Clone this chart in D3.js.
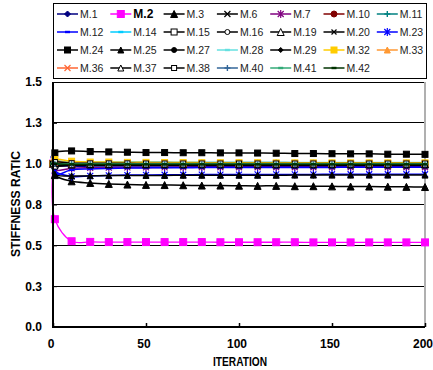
<!DOCTYPE html>
<html><head><meta charset="utf-8">
<script src="https://cdn.jsdelivr.net/npm/d3@7"></script>
<style>html,body{margin:0;padding:0;background:#fff;}svg{display:block;font-family:"Liberation Sans",Arial,sans-serif;}</style>
</head><body>
<svg id="chart" width="433" height="370"></svg>
<script>
// ---------- data ----------
const iterations = [0, 1, 10, 20, 30, 40, 50, 60, 70, 80, 90, 100, 110, 120, 130, 140, 150, 160, 170, 180, 190, 200];
const xTicks = [0, 50, 100, 150, 200];
const yTicks = [0, 0.25, 0.5, 0.75, 1.0, 1.25, 1.5];
const yTickLabels = ["0.0", "0.3", "0.5", "0.8", "1.0", "1.3", "1.5"];
const categories = ["M.1","M.2","M.3","M.6","M.7","M.10","M.11","M.12","M.14","M.15","M.16","M.19","M.20","M.23",
  "M.24","M.25","M.27","M.28","M.29","M.32","M.33","M.36","M.37","M.38","M.40","M.41","M.42"];

const m1  = [1.00,0.990,0.985,0.985,0.985,0.985,0.985,0.985,0.985,0.984,0.984,0.984,0.984,0.984,0.984,0.984,0.983,0.983,0.983,0.983,0.983,0.983];
const m2  = [1.00,0.660,0.525,0.521,0.520,0.520,0.520,0.520,0.520,0.520,0.519,0.519,0.519,0.519,0.519,0.518,0.518,0.518,0.518,0.518,0.518,0.518];
const m3  = [1.00,0.930,0.892,0.882,0.876,0.872,0.870,0.869,0.868,0.866,0.866,0.865,0.864,0.864,0.862,0.862,0.861,0.860,0.860,0.859,0.858,0.857];
const m6  = [1.00,0.995,0.992,0.992,0.991,0.991,0.991,0.991,0.990,0.990,0.990,0.990,0.990,0.990,0.990,0.990,0.990,0.990,0.990,0.990,0.990,0.990];
const m7  = [1.00,0.960,0.972,0.975,0.976,0.977,0.977,0.977,0.978,0.978,0.978,0.978,0.978,0.978,0.978,0.978,0.978,0.978,0.978,0.978,0.978,0.978];
const m10 = [1.00,1.000,0.995,0.995,0.995,0.995,0.995,0.995,0.994,0.994,0.994,0.994,0.994,0.994,0.994,0.994,0.994,0.994,0.994,0.994,0.994,0.994];
const m11 = [1.00,1.012,1.010,1.009,1.008,1.008,1.008,1.008,1.007,1.007,1.007,1.007,1.007,1.007,1.006,1.006,1.006,1.006,1.006,1.006,1.006,1.006];
const m12 = [1.04,0.935,0.962,0.968,0.971,0.973,0.974,0.975,0.975,0.976,0.976,0.976,0.977,0.977,0.977,0.977,0.977,0.978,0.978,0.978,0.978,0.978];
const m14 = [1.00,1.006,1.005,1.005,1.005,1.005,1.004,1.004,1.004,1.004,1.004,1.004,1.004,1.004,1.004,1.004,1.004,1.004,1.004,1.004,1.004,1.004];
const m15 = [1.00,1.000,0.998,0.998,0.998,0.998,0.998,0.998,0.998,0.998,0.998,0.998,0.998,0.998,0.998,0.998,0.998,0.998,0.998,0.998,0.998,0.998];
const m16 = [1.00,0.998,0.997,0.997,0.997,0.997,0.997,0.997,0.997,0.997,0.997,0.997,0.997,0.997,0.997,0.997,0.997,0.997,0.997,0.997,0.997,0.997];
const m19 = [1.00,0.995,0.995,0.995,0.995,0.995,0.995,0.995,0.995,0.995,0.995,0.995,0.995,0.995,0.995,0.995,0.995,0.995,0.995,0.995,0.995,0.995];
const m20 = [1.00,0.997,0.996,0.996,0.996,0.996,0.996,0.996,0.996,0.996,0.996,0.996,0.996,0.996,0.996,0.996,0.996,0.996,0.996,0.996,0.996,0.996];
const m23 = [1.00,0.955,0.922,0.925,0.928,0.930,0.931,0.932,0.932,0.933,0.933,0.933,0.934,0.934,0.934,0.934,0.935,0.935,0.935,0.935,0.935,0.935];
const m24 = [1.00,1.066,1.078,1.074,1.072,1.070,1.068,1.068,1.067,1.067,1.066,1.066,1.065,1.064,1.062,1.062,1.061,1.060,1.060,1.058,1.058,1.057];
const m25 = [1.00,0.935,0.925,0.926,0.927,0.928,0.928,0.928,0.929,0.929,0.929,0.929,0.929,0.929,0.930,0.930,0.930,0.930,0.930,0.930,0.930,0.930];
const m27 = [1.00,0.994,0.993,0.993,0.993,0.993,0.993,0.993,0.993,0.993,0.993,0.993,0.993,0.993,0.993,0.993,0.993,0.993,0.993,0.993,0.993,0.993];
const m28 = [1.00,1.010,1.008,1.008,1.008,1.008,1.008,1.007,1.007,1.007,1.007,1.007,1.007,1.007,1.007,1.007,1.007,1.007,1.007,1.007,1.007,1.007];
const m29 = [1.00,0.990,0.990,0.990,0.990,0.990,0.990,0.990,0.990,0.990,0.990,0.990,0.990,0.990,0.990,0.990,0.990,0.990,0.990,0.990,0.990,0.990];
const m32 = [1.00,1.025,1.015,1.010,1.010,1.008,1.008,1.007,1.007,1.006,1.006,1.006,1.006,1.005,1.005,1.005,1.005,1.005,1.005,1.005,1.005,1.005];
const m33 = [1.00,1.010,1.005,1.003,1.002,1.001,1.001,1.000,1.000,1.000,1.000,1.000,1.000,1.000,1.000,1.000,1.000,1.000,1.000,1.000,1.000,1.000];
const m36 = [1.00,1.005,1.000,1.000,1.000,1.000,1.000,1.000,1.000,1.000,1.000,1.000,1.000,1.000,1.000,1.000,1.000,1.000,1.000,1.000,1.000,1.000];
const m37 = [1.00,0.985,0.994,0.995,0.995,0.995,0.995,0.995,0.995,0.995,0.995,0.995,0.995,0.995,0.995,0.995,0.995,0.995,0.995,0.995,0.995,0.995];
const m38 = [1.00,1.010,1.003,1.002,1.002,1.002,1.001,1.001,1.001,1.001,1.001,1.001,1.001,1.001,1.001,1.001,1.001,1.001,1.001,1.001,1.001,1.001];
const m40 = [1.00,1.000,0.998,0.998,0.998,0.998,0.998,0.998,0.997,0.997,0.997,0.997,0.997,0.997,0.997,0.997,0.997,0.997,0.997,0.997,0.997,0.997];
const m41 = [1.00,1.000,0.999,0.999,0.999,0.999,0.999,0.999,0.999,0.999,0.999,0.999,0.999,0.999,0.999,0.999,0.999,0.999,0.999,0.999,0.999,0.999];
const m42 = [1.00,1.000,0.996,0.996,0.996,0.996,0.996,0.996,0.996,0.996,0.996,0.996,0.996,0.996,0.996,0.996,0.996,0.996,0.996,0.996,0.996,0.996];

const seriesValues = [m1,m2,m3,m6,m7,m10,m11,m12,m14,m15,m16,m19,m20,m23,m24,m25,m27,m28,m29,m32,m33,m36,m37,m38,m40,m41,m42];

// ---------- styles (kept separate from data) ----------
const styles = {
  "M.1":  {c:"#000080", m:"diamond", fill:true, s:6},
  "M.2":  {c:"#FF00FF", m:"square", fill:true, s:7},
  "M.3":  {c:"#000000", m:"triangle", fill:true, s:7},
  "M.6":  {c:"#000000", m:"x", s:6},
  "M.7":  {c:"#800080", m:"asterisk", s:6},
  "M.10": {c:"#800000", m:"circle", fill:true, s:6},
  "M.11": {c:"#008080", m:"plus", s:6},
  "M.12": {c:"#0000FF", m:"dash", s:5},
  "M.14": {c:"#00CCFF", m:"dash", s:5},
  "M.15": {c:"#000000", m:"square", fill:false, s:6},
  "M.16": {c:"#000000", m:"circle", fill:false, s:5},
  "M.19": {c:"#000000", m:"triangle", fill:false, s:7},
  "M.20": {c:"#000000", m:"x", s:5},
  "M.23": {c:"#0000FF", m:"asterisk", s:6},
  "M.24": {c:"#000000", m:"square", fill:true, s:6},
  "M.25": {c:"#000000", m:"triangle", fill:true, s:6},
  "M.27": {c:"#000000", m:"circle", fill:true, s:5},
  "M.28": {c:"#66E0E0", m:"dash", s:5},
  "M.29": {c:"#000000", m:"diamond", fill:true, s:5},
  "M.32": {c:"#FFCC00", m:"square", fill:true, s:6},
  "M.33": {c:"#FF9933", m:"triangle", fill:true, s:6},
  "M.36": {c:"#FF6633", m:"x", s:6},
  "M.37": {c:"#000000", m:"triangle", fill:false, s:6},
  "M.38": {c:"#000000", m:"square", fill:false, s:5},
  "M.40": {c:"#336699", m:"plus", s:6},
  "M.41": {c:"#33AA77", m:"dash", s:5},
  "M.42": {c:"#003300", m:"dash", s:5}
};

// ---------- layout ----------
const svg = d3.select("#chart");
const plot = {left:53, right:425, top:82, bottom:327};
const x = d3.scaleLinear().domain([0,200]).range([plot.left, plot.right]);
const y = d3.scaleLinear().domain([0,1.5]).range([plot.bottom, plot.top]);

// grid lines
svg.append("g").selectAll("line").data(yTicks.filter(d => d > 0)).join("line")
  .attr("x1", plot.left).attr("x2", plot.right)
  .attr("y1", d => y(d)).attr("y2", d => y(d))
  .attr("stroke", "#000").attr("stroke-width", 1).attr("shape-rendering","crispEdges");

// right border (plot area)
svg.append("line").attr("x1", plot.right).attr("x2", plot.right)
  .attr("y1", plot.top).attr("y2", plot.bottom)
  .attr("stroke", "#b0b0b0").attr("stroke-width", 2);

// marker drawing
function drawMarker(g, st) {
  const s = st.s, c = st.c;
  if (st.m === "square") {
    g.append("rect").attr("x", -s/2).attr("y", -s/2).attr("width", s).attr("height", s)
      .attr("fill", st.fill ? c : "#fff").attr("stroke", c).attr("stroke-width", 1);
  } else if (st.m === "diamond") {
    g.append("path").attr("d", `M0,${-s/2}L${s/2},0L0,${s/2}L${-s/2},0Z`)
      .attr("fill", st.fill ? c : "#fff").attr("stroke", c).attr("stroke-width", 1);
  } else if (st.m === "triangle") {
    g.append("path").attr("d", `M0,${-s/2}L${s/2},${s/2}L${-s/2},${s/2}Z`)
      .attr("fill", st.fill ? c : "#fff").attr("stroke", c).attr("stroke-width", 1);
  } else if (st.m === "circle") {
    g.append("circle").attr("r", s/2).attr("fill", st.fill ? c : "#fff").attr("stroke", c).attr("stroke-width", 1);
  } else if (st.m === "x") {
    const h = s/2;
    g.append("path").attr("d", `M${-h},${-h}L${h},${h}M${-h},${h}L${h},${-h}`).attr("stroke", c).attr("stroke-width", 1.2).attr("fill","none");
  } else if (st.m === "asterisk") {
    const h = s/2;
    g.append("path").attr("d", `M${-h},${-h}L${h},${h}M${-h},${h}L${h},${-h}M0,${-h-1}L0,${h+1}`).attr("stroke", c).attr("stroke-width", 1.2).attr("fill","none");
  } else if (st.m === "plus") {
    const h = s/2;
    g.append("path").attr("d", `M${-h},0L${h},0M0,${-h}L0,${h}`).attr("stroke", c).attr("stroke-width", 1.4).attr("fill","none");
  } else if (st.m === "dash") {
    g.append("rect").attr("x", -s/2).attr("y", -1.2).attr("width", s).attr("height", 2.4).attr("fill", c);
  }
}

// series lines + markers
const line = d3.line().x((d,i) => x(iterations[i])).y(d => y(d)).curve(d3.curveCatmullRom.alpha(0.5));
const seriesG = svg.append("g");
categories.forEach((name, k) => {
  const st = styles[name];
  const vals = seriesValues[k];
  const g = seriesG.append("g");
  g.append("path").attr("d", line(vals)).attr("fill", "none")
    .attr("stroke", st.c).attr("stroke-width", name === "M.2" ? 1.3 : 1.5);
  vals.forEach((v, i) => {
    const mg = g.append("g").attr("transform", `translate(${x(iterations[i])},${y(v)})`);
    drawMarker(mg, st);
  });
});

// axes spines
svg.append("line").attr("x1", plot.left).attr("x2", plot.left).attr("y1", plot.top).attr("y2", plot.bottom+1)
  .attr("stroke", "#000").attr("stroke-width", 2);
svg.append("line").attr("x1", plot.left-1).attr("x2", plot.right).attr("y1", plot.bottom).attr("y2", plot.bottom)
  .attr("stroke", "#000").attr("stroke-width", 2);

// x axis ticks (inward) and labels
const xAxis = d3.axisBottom(x).tickValues(xTicks).tickSize(-4).tickPadding(12).tickFormat(d3.format("d"));
const xg = svg.append("g").attr("transform", `translate(0,${plot.bottom})`).call(xAxis);
xg.select(".domain").remove();
xg.selectAll(".tick line").attr("stroke", "#000").attr("stroke-width", 1.5);
xg.selectAll(".tick text").attr("font-size", 12).attr("font-weight", "bold").attr("fill", "#000")
  .attr("dx", "-2.5").attr("font-family", "'Liberation Sans', Arial, sans-serif");

// y axis ticks and labels
const yAxis = d3.axisLeft(y).tickValues(yTicks).tickSize(-4).tickPadding(11)
  .tickFormat((d,i) => yTickLabels[i]);
const yg = svg.append("g").attr("transform", `translate(${plot.left},0)`).call(yAxis);
yg.select(".domain").remove();
yg.selectAll(".tick line").attr("stroke", "#000").attr("stroke-width", 1);
yg.selectAll(".tick text").attr("font-size", 12).attr("font-weight", "bold").attr("fill", "#000")
  .attr("font-family", "'Liberation Sans', Arial, sans-serif");

// axis titles
svg.append("text").attr("x", 240).attr("y", 366).attr("text-anchor", "middle")
  .attr("font-size", 13).attr("font-weight", "bold")
  .attr("textLength", 54).attr("lengthAdjust", "spacingAndGlyphs")
  .text("ITERATION");
svg.append("text").attr("transform", "translate(20,204) rotate(-90)").attr("text-anchor", "middle")
  .attr("font-size", 12).attr("font-weight", "bold")
  .attr("textLength", 106).attr("lengthAdjust", "spacingAndGlyphs")
  .text("STIFFNESS RATIC");

// legend
const lg = svg.append("g");
lg.append("rect").attr("x", 53.5).attr("y", 3.5).attr("width", 373).attr("height", 75)
  .attr("fill", "#fff").attr("stroke", "#000").attr("stroke-width", 1);
categories.forEach((name, k) => {
  const col = k % 7, row = Math.floor(k / 7);
  const x0 = 57 + col * 53.3, yy = 14 + row * 18;
  const st = styles[name];
  const eg = lg.append("g");
  eg.append("line").attr("x1", x0).attr("x2", x0 + 21).attr("y1", yy).attr("y2", yy)
    .attr("stroke", st.c).attr("stroke-width", 1.5);
  const mg = eg.append("g").attr("transform", `translate(${x0 + 10.5},${yy})`);
  drawMarker(mg, st);
  eg.append("text").attr("x", x0 + 23).attr("y", yy + 4)
    .attr("font-size", name === "M.2" ? 12 : 10.5)
    .attr("font-weight", name === "M.2" ? "bold" : "normal")
    .attr("fill", name === "M.2" ? "#000" : "#222")
    .text(name);
});
</script>
</body></html>
